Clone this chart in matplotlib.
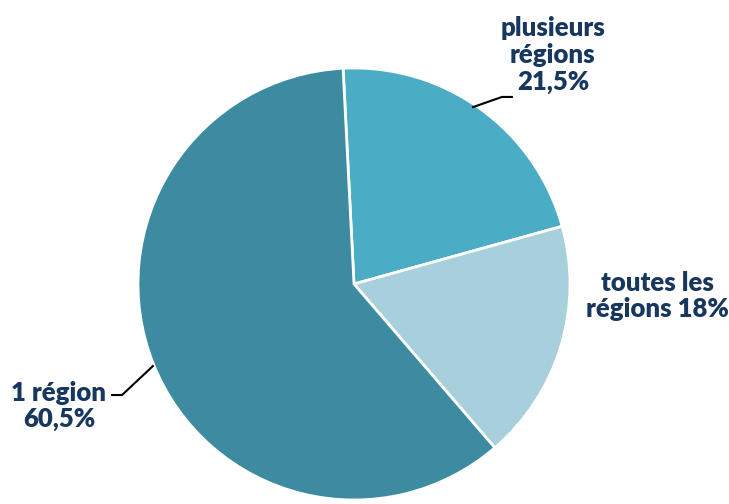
import matplotlib
matplotlib.use("Agg")
import matplotlib.pyplot as plt

labels = ["plusieurs\nrégions\n21,5%", "toutes les\nrégions 18%", "1 région\n60,5%"]
values = [21.5, 18.0, 60.5]
colors = ["#4BACC6", "#A8CFDC", "#3D8BA0"]

TEXT_COLOR = "#17375E"

fig = plt.figure(figsize=(7.29, 5.04), dpi=100)
# pie centre ~ (354, 284) px, radius ~216 px
ax = fig.add_axes([138 / 729, 4 / 504, 432 / 729, 432 / 504])
ax.pie(values, colors=colors, startangle=92.9, counterclock=False,
       wedgeprops=dict(edgecolor="white", linewidth=2))
ax.set_xlim(-1, 1)
ax.set_ylim(-1, 1)
ax.set_aspect("equal")
ax.axis("off")

font = dict(family="Lato", fontweight="heavy", fontsize=18.5, color=TEXT_COLOR,
            ha="center", va="center", linespacing=1.12)

# label positions (data coords)
ax.text(0.921, 1.06, labels[0], clip_on=False, **font)
ax.text(1.403, -0.056, labels[1], clip_on=False, **font)
ax.text(-1.366, -0.565, labels[2], clip_on=False, **font)

# leader lines
ax.plot([0.551, 0.685, 0.731], [0.819, 0.866, 0.866], color="black", lw=1.5, clip_on=False)
ax.plot([-0.931, -1.074, -1.120], [-0.380, -0.514, -0.514], color="black", lw=1.5, clip_on=False)

fig.savefig("out.png", dpi=100)
